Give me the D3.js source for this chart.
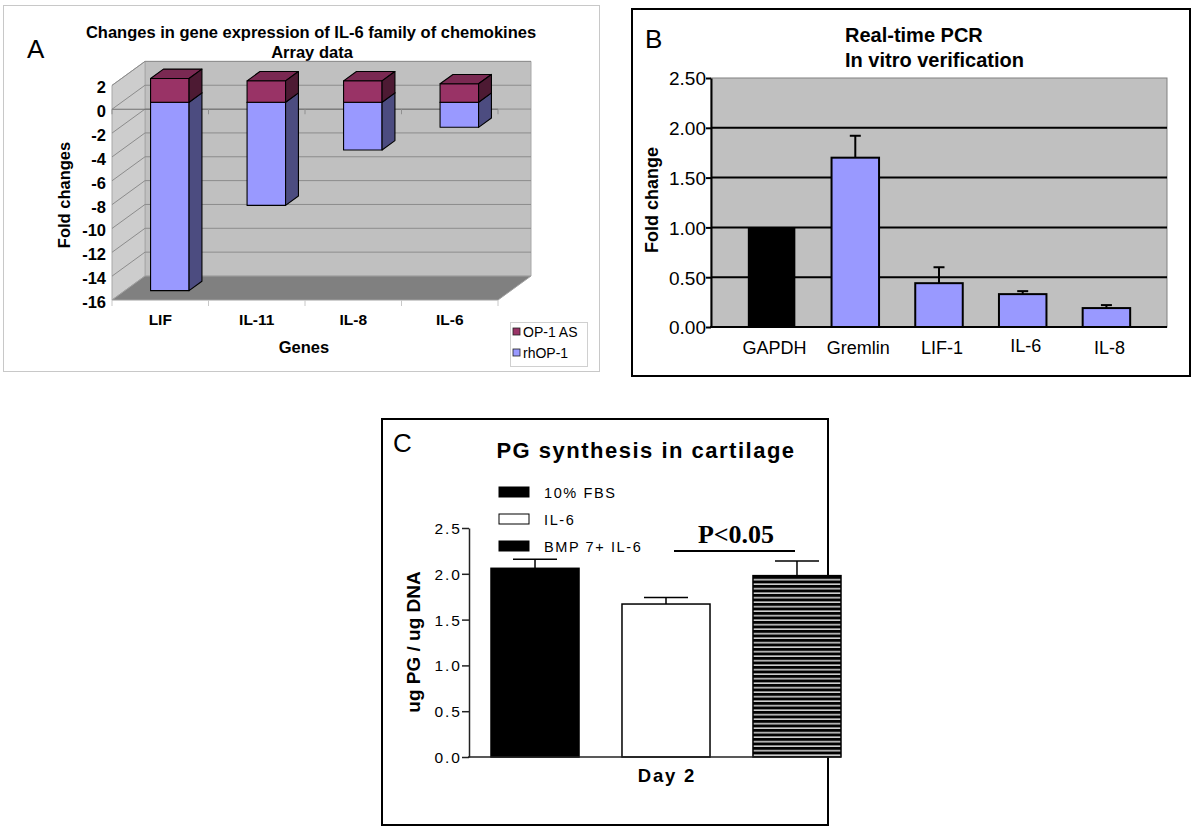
<!DOCTYPE html>
<html><head><meta charset="utf-8">
<script src="https://cdn.jsdelivr.net/npm/d3@7"></script>
<style>
html,body{margin:0;padding:0;background:#fff;}
</style></head>
<body>
<svg id="fig" width="1200" height="831" font-family="Liberation Sans, Arial, sans-serif"></svg>
<script>
// ---------- Panel A data ----------
const genesA = ["LIF", "IL-11", "IL-8", "IL-6"];
const op1AS = [2.0, 1.8, 1.8, 1.55];
const rhOP1 = [-15.8, -8.65, -4.0, -2.1];
const ticksA = [2, 0, -2, -4, -6, -8, -10, -12, -14, -16];
const seriesA = ["OP-1 AS", "rhOP-1"];

// ---------- Panel B data ----------
const genesB = ["GAPDH", "Gremlin", "LIF-1", "IL-6", "IL-8"];
const foldB = [1.00, 1.70, 0.44, 0.33, 0.19];
const errB = [0, 0.22, 0.16, 0.03, 0.03];
const ticksB = [0, 0.5, 1.0, 1.5, 2.0, 2.5];

// ---------- Panel C data ----------
const groupsC = ["10% FBS", "IL-6", "BMP 7+ IL-6"];
const pgC = [2.06, 1.67, 1.98];
const errC = [0.10, 0.07, 0.16];
const ticksC = [0, 0.5, 1.0, 1.5, 2.0, 2.5];

const svg = d3.select("#fig");
const defs = svg.append("defs");
const pat = defs.append("pattern").attr("id", "stripes").attr("patternUnits", "userSpaceOnUse")
  .attr("width", 10).attr("height", 4.5);
pat.append("rect").attr("width", 10).attr("height", 4.5).attr("fill", "#000");
pat.append("rect").attr("y", 3).attr("width", 10).attr("height", 1.4).attr("fill", "#e8e8e8");

// =============== PANEL A ===============
const A = svg.append("g");
A.append("rect").attr("x", 3.5).attr("y", 5.5).attr("width", 596).attr("height", 366)
  .attr("fill", "#fff").attr("stroke", "#c8c8c8");
A.append("text").attr("x", 27).attr("y", 58).attr("font-size", 26).text("A");
A.append("text").attr("x", 311).attr("y", 38).attr("text-anchor", "middle")
  .attr("font-size", 16.5).attr("font-weight", "bold")
  .text("Changes in gene expression of IL-6 family of chemokines");
A.append("text").attr("x", 312).attr("y", 58).attr("text-anchor", "middle")
  .attr("font-size", 16.5).attr("font-weight", "bold").text("Array data");

const yA = d3.scaleLinear().domain([-16, 2]).range([300, 85.4]);
const xA = d3.scaleBand().domain(genesA).range([112, 498]);
const DX = 33, DY = -24;
const x0 = xA.range()[0], x1 = xA.range()[1];
const yTop = yA(2), yBot = yA(-16);
// back wall
A.append("polygon").attr("points",
  [[x0+DX, yTop+DY],[x1+DX, yTop+DY],[x1+DX, yBot+DY],[x0+DX, yBot+DY]].join(" "))
  .attr("fill", "#c0c0c0").attr("stroke", "#a8a8a8").attr("stroke-width", 1);
// side wall
A.append("polygon").attr("points",
  [[x0, yTop],[x0+DX, yTop+DY],[x0+DX, yBot+DY],[x0, yBot]].join(" "))
  .attr("fill", "#cdcdcd").attr("stroke", "#a8a8a8").attr("stroke-width", 1);
// gridlines
const gridVals = ticksA.filter(v => v > -16);
A.selectAll(".gb").data(gridVals).enter().append("line")
  .attr("x1", x0+DX).attr("x2", x1+DX)
  .attr("y1", d => yA(d)+DY).attr("y2", d => yA(d)+DY)
  .attr("stroke", "#8c8c8c").attr("stroke-width", 1);
A.selectAll(".gs").data(gridVals).enter().append("line")
  .attr("x1", x0).attr("x2", x0+DX)
  .attr("y1", d => yA(d)).attr("y2", d => yA(d)+DY)
  .attr("stroke", "#8c8c8c").attr("stroke-width", 1);
// floor
A.append("polygon").attr("points",
  [[x0, yBot],[x0+DX, yBot+DY],[x1+DX, yBot+DY],[x1, yBot]].join(" "))
  .attr("fill", "#808080").attr("stroke", "#a0a0a0").attr("stroke-width", 1);
// zero category axis line (front plane)
A.append("line").attr("x1", x0).attr("x2", x1).attr("y1", yA(0)).attr("y2", yA(0))
  .attr("stroke", "#707070").attr("stroke-width", 1.2);
const catEdges = genesA.map(g => xA(g)).concat([x1]);
A.selectAll(".ct").data(catEdges).enter().append("line")
  .attr("x1", d => d).attr("x2", d => d).attr("y1", yA(0)).attr("y2", yA(0)+5)
  .attr("stroke", "#909090");
A.selectAll(".cb").data(catEdges).enter().append("line")
  .attr("x1", d => d).attr("x2", d => d).attr("y1", yBot).attr("y2", yBot+6)
  .attr("stroke", "#c8c8c8");

// 3D stacked bars
const f0 = 0.29, f1 = 0.68, bw = 38.5;
const bdx = (f1-f0)*DX, bdy = (f1-f0)*DY;
function box(g, xl, yt, yb, cFront, cTop, cSide) {
  const xr = xl + bw;
  g.append("polygon").attr("points", [[xl,yt],[xr,yt],[xr,yb],[xl,yb]].join(" "))
    .attr("fill", cFront).attr("stroke", "#000").attr("stroke-width", 1.1).attr("stroke-linejoin", "round");
  g.append("polygon").attr("points", [[xl,yt],[xl+bdx,yt+bdy],[xr+bdx,yt+bdy],[xr,yt]].join(" "))
    .attr("fill", cTop).attr("stroke", "#000").attr("stroke-width", 1.1).attr("stroke-linejoin", "round");
  g.append("polygon").attr("points", [[xr,yt],[xr+bdx,yt+bdy],[xr+bdx,yb+bdy],[xr,yb]].join(" "))
    .attr("fill", cSide).attr("stroke", "#000").attr("stroke-width", 1.1).attr("stroke-linejoin", "round");
}
genesA.forEach((g, i) => {
  const xl = xA(g) + xA.bandwidth()/2 - bw/2 + f0*DX;
  const off = f0*DY;
  const gg = A.append("g");
  box(gg, xl, yA(0)+off, yA(rhOP1[i])+off, "#9999ff", "#8080d8", "#4c4c80");
  box(gg, xl, yA(op1AS[i])+off, yA(0)+off, "#993366", "#7a2952", "#4d1a33");
});

// y axis labels
A.selectAll(".yl").data(ticksA).enter().append("text")
  .attr("x", 106).attr("y", d => yA(d)+8).attr("text-anchor", "end")
  .attr("font-size", 16.5).attr("font-weight", "bold").text(d => d);
// category labels
A.selectAll(".xl").data(genesA).enter().append("text")
  .attr("x", d => xA(d)+xA.bandwidth()/2).attr("y", 325).attr("text-anchor", "middle")
  .attr("font-size", 15.5).attr("font-weight", "bold").text(d => d);
A.append("text").attr("x", 304).attr("y", 353).attr("text-anchor", "middle")
  .attr("font-size", 16.5).attr("font-weight", "bold").text("Genes");
A.append("text").attr("transform", "translate(70,195) rotate(-90)").attr("text-anchor", "middle")
  .attr("font-size", 16.5).attr("font-weight", "bold").text("Fold changes");
// legend
A.append("rect").attr("x", 510.5).attr("y", 322.5).attr("width", 77).attr("height", 44)
  .attr("fill", "#fff").attr("stroke", "#d0d0d0");
const legA = A.selectAll(".la").data(seriesA).enter().append("g")
  .attr("transform", (d, i) => `translate(513,${328 + i*21})`);
legA.append("rect").attr("width", 7).attr("height", 7)
  .attr("fill", (d, i) => i === 0 ? "#993366" : "#9999ff").attr("stroke", "#222").attr("stroke-width", 0.8);
legA.append("text").attr("x", 10).attr("y", 8.5).attr("font-size", 14).text(d => d);

// =============== PANEL B ===============
const B = svg.append("g");
B.append("rect").attr("x", 632).attr("y", 9).attr("width", 558).attr("height", 367)
  .attr("fill", "#fff").attr("stroke", "#000").attr("stroke-width", 2);
B.append("text").attr("x", 645).attr("y", 48).attr("font-size", 26).text("B");
B.append("text").attr("x", 845).attr("y", 42).attr("font-size", 20).attr("font-weight", "bold").text("Real-time PCR");
B.append("text").attr("x", 845).attr("y", 67).attr("font-size", 20).attr("font-weight", "bold").text("In vitro verification");

const yB = d3.scaleLinear().domain([0, 2.5]).range([327, 78]);
const xB = d3.scaleBand().domain(genesB).range([711, 1167]).paddingInner(0.4325).paddingOuter(0.44);
B.append("rect").attr("x", 711).attr("y", yB(2.5)).attr("width", 456).attr("height", yB(0)-yB(2.5))
  .attr("fill", "#c0c0c0").attr("stroke", "#808080").attr("stroke-width", 1);
B.selectAll(".gl").data(ticksB.filter(d => d > 0 && d < 2.5)).enter().append("line")
  .attr("x1", 711).attr("x2", 1167).attr("y1", d => yB(d)).attr("y2", d => yB(d))
  .attr("stroke", "#000").attr("stroke-width", 2);
// bars
B.selectAll(".bb").data(genesB).enter().append("rect")
  .attr("x", d => xB(d)).attr("width", xB.bandwidth())
  .attr("y", (d, i) => yB(foldB[i])).attr("height", (d, i) => yB(0) - yB(foldB[i]))
  .attr("fill", (d, i) => i === 0 ? "#000" : "#9999ff")
  .attr("stroke", "#000").attr("stroke-width", (d, i) => i === 0 ? 0 : 2);
// error bars
const eB = B.selectAll(".eb").data(genesB.filter((d, i) => errB[i] > 0)).enter().append("g");
eB.append("line").attr("x1", d => xB(d)+xB.bandwidth()/2).attr("x2", d => xB(d)+xB.bandwidth()/2)
  .attr("y1", d => yB(foldB[genesB.indexOf(d)])).attr("y2", d => yB(foldB[genesB.indexOf(d)] + errB[genesB.indexOf(d)]))
  .attr("stroke", "#000").attr("stroke-width", 2);
eB.append("line").attr("x1", d => xB(d)+xB.bandwidth()/2-5.5).attr("x2", d => xB(d)+xB.bandwidth()/2+5.5)
  .attr("y1", d => yB(foldB[genesB.indexOf(d)] + errB[genesB.indexOf(d)]))
  .attr("y2", d => yB(foldB[genesB.indexOf(d)] + errB[genesB.indexOf(d)]))
  .attr("stroke", "#000").attr("stroke-width", 2);
// axes
const axB = B.append("g").attr("transform", "translate(711,0)")
  .call(d3.axisLeft(yB).tickValues(ticksB).tickSize(5).tickSizeOuter(0).tickFormat(d3.format(".2f")));
axB.attr("font-family", null).attr("font-size", null);
axB.select(".domain").attr("stroke", "#000").attr("stroke-width", 2);
axB.selectAll(".tick line").attr("stroke", "#000").attr("stroke-width", 2);
axB.selectAll(".tick text").attr("font-size", 19)
  .attr("fill", "#000").attr("x", -5).attr("dy", "0.36em");
B.append("line").attr("x1", 710).attr("x2", 1167).attr("y1", yB(0)).attr("y2", yB(0))
  .attr("stroke", "#000").attr("stroke-width", 2);
B.selectAll(".xlb").data(genesB).enter().append("text")
  .attr("x", d => xB(d)+xB.bandwidth()/2 + 3).attr("y", (d, i) => i === 3 ? 352 : 354)
  .attr("text-anchor", "middle").attr("font-size", 18).text(d => d);
B.append("text").attr("transform", "translate(658,200) rotate(-90)").attr("text-anchor", "middle")
  .attr("font-size", 18).attr("font-weight", "bold").text("Fold change");

// =============== PANEL C ===============
const C = svg.append("g");
C.append("rect").attr("x", 382).attr("y", 419).attr("width", 446).attr("height", 406)
  .attr("fill", "#fff").attr("stroke", "#000").attr("stroke-width", 2);
C.append("text").attr("x", 393).attr("y", 452).attr("font-size", 26).text("C");
C.append("text").attr("x", 646).attr("y", 458).attr("text-anchor", "middle")
  .attr("font-size", 22).attr("font-weight", "bold").attr("letter-spacing", 1.5)
  .text("PG synthesis in cartilage");

const yC = d3.scaleLinear().domain([0, 2.5]).range([757, 528]);
const xC = d3.scaleBand().domain(groupsC).range([491, 841]).paddingInner(0.328).paddingOuter(0);
const fillC = ["#000", "#fff", "url(#stripes)"];
C.selectAll(".bc").data(groupsC).enter().append("rect")
  .attr("x", d => xC(d)).attr("width", xC.bandwidth())
  .attr("y", (d, i) => yC(pgC[i])).attr("height", (d, i) => yC(0) - yC(pgC[i]))
  .attr("fill", (d, i) => fillC[i]).attr("stroke", "#000").attr("stroke-width", 1.5);
const eC = C.selectAll(".ec").data(groupsC).enter().append("g");
eC.append("line").attr("x1", d => xC(d)+xC.bandwidth()/2).attr("x2", d => xC(d)+xC.bandwidth()/2)
  .attr("y1", (d, i) => yC(pgC[i])).attr("y2", (d, i) => yC(pgC[i]+errC[i]))
  .attr("stroke", "#000").attr("stroke-width", 1.5);
eC.append("line").attr("x1", d => xC(d)+xC.bandwidth()/4).attr("x2", d => xC(d)+xC.bandwidth()*3/4)
  .attr("y1", (d, i) => yC(pgC[i]+errC[i])).attr("y2", (d, i) => yC(pgC[i]+errC[i]))
  .attr("stroke", "#000").attr("stroke-width", 1.5);
const axC = C.append("g").attr("transform", "translate(469,0)")
  .call(d3.axisLeft(yC).tickValues(ticksC).tickSize(7).tickSizeOuter(0).tickFormat(d3.format(".1f")));
axC.attr("font-family", null).attr("font-size", null);
axC.select(".domain").attr("stroke", "#222").attr("stroke-width", 1.5);
axC.selectAll(".tick line").attr("stroke", "#222").attr("stroke-width", 1.5);
axC.selectAll(".tick text").attr("font-size", 15.5).attr("letter-spacing", 2)
  .attr("fill", "#000").attr("x", -7).attr("dy", "0.36em");
C.append("line").attr("x1", 468).attr("x2", 841).attr("y1", yC(0)).attr("y2", yC(0))
  .attr("stroke", "#222").attr("stroke-width", 1.5);
C.append("text").attr("transform", "translate(420,642) rotate(-90)").attr("text-anchor", "middle")
  .attr("font-size", 19).attr("font-weight", "bold").text("ug PG / ug DNA");
C.append("text").attr("x", 667).attr("y", 782).attr("text-anchor", "middle")
  .attr("font-size", 18.5).attr("font-weight", "bold").attr("letter-spacing", 1.8).text("Day 2");
// legend
const legFill = ["#000", "#fff", "#000"];
const legC = C.selectAll(".lc").data(groupsC).enter().append("g")
  .attr("transform", (d, i) => `translate(499,${487 + i*27})`);
legC.append("rect").attr("width", 30).attr("height", 10)
  .attr("fill", (d, i) => legFill[i]).attr("stroke", "#000").attr("stroke-width", 1);
legC.append("text").attr("x", 45).attr("y", 10.5).attr("font-size", 14.5).attr("letter-spacing", 1.6).text(d => d);
// significance
C.append("line").attr("x1", 674).attr("x2", 795).attr("y1", 551).attr("y2", 551)
  .attr("stroke", "#000").attr("stroke-width", 2);
C.append("text").attr("x", 736).attr("y", 543).attr("text-anchor", "middle")
  .attr("font-family", "Liberation Serif, Times New Roman, serif")
  .attr("font-size", 26).attr("font-weight", "bold").text("P<0.05");
</script>
</body></html>
